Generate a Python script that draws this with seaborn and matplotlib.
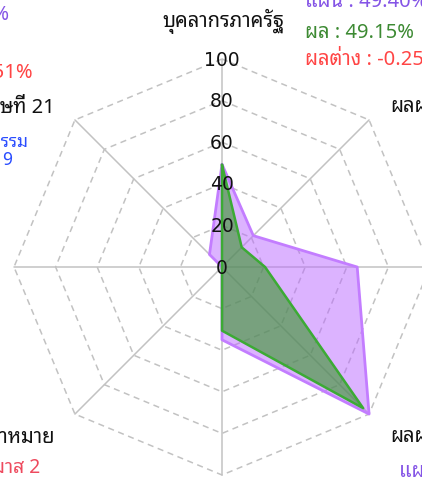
import matplotlib
matplotlib.use("Agg")
import numpy as np
import pandas as pd
import matplotlib.pyplot as plt
import seaborn as sns
from matplotlib import font_manager

# ---------------- data ----------------
categories = ["บุคลากรภาครัฐ", "ผลผลิตทางวิชาการ", "นวัตกรรม", "ผลผลิตอื่น",
              "เครือข่าย", "กลุ่มเป้าหมาย", "บริการวิชาการ", "ทักษะศตวรรษที่ 21"]
plan_values = [49.40, 21.3, 65.0, 100.0, 35.0, 0.0, 0.0, 8.51]
result_values = [49.15, 13.4, 20.7, 96.0, 30.6, 0.0, 0.0, 0.0]
tick_values = [0, 20, 40, 60, 80, 100]
tick_labels = ["0", "20", "40", "60", "80", "100"]

# ---------------- fonts ----------------
sns.set_theme(style="white")
avail = {f.name for f in font_manager.fontManager.ttflist}
thai_candidates = ["Noto Sans Thai Looped", "IBM Plex Sans Thai Looped", "Sarabun",
                   "Noto Sans Thai", "Anuphan", "Prompt"]
thai = [c for c in thai_candidates if c in avail][:1]
fam = thai + ["DejaVu Sans"]
plt.rcParams["font.family"] = fam

W, H = 422, 481
CX, CY, SC = 222.0, 268.0, 2.08  # centre pixel, pixels per value unit

fig = plt.figure(figsize=(W / 100, H / 100), dpi=100)
ax = fig.add_axes([0, 0, 1, 1])

n = len(categories)
ang = np.deg2rad(90 - 45 * np.arange(n))


def to_xy(vals):
    v = np.asarray(vals, float)
    return v * np.cos(ang), v * np.sin(ang)


def P(px, py):
    return (px - CX) / SC, (CY - py) / SC


grid_c = "#c2c2c2"
# spokes
for a in ang:
    ax.plot([0, 100 * np.cos(a)], [0, 100 * np.sin(a)], color=grid_c, lw=1.1, zorder=1)
# rings
for r in tick_values[1:]:
    xs, ys = to_xy([r] * n)
    ax.plot(np.r_[xs, xs[0]], np.r_[ys, ys[0]], color=grid_c, lw=1.1,
            linestyle=(0, (4, 3)), zorder=1)

# plan polygon
px_, py_ = to_xy(plan_values)
ax.fill(px_, py_, color=(187 / 255, 105 / 255, 1.0), alpha=0.5, lw=0, zorder=2)
dfp = pd.DataFrame({"x": np.r_[px_, px_[0]], "y": np.r_[py_, py_[0]]})
sns.lineplot(data=dfp, x="x", y="y", sort=False, estimator=None, ax=ax,
             color="#c37dff", lw=2.0, zorder=3)

# result polygon
rx_, ry_ = to_xy(result_values)
ax.fill(rx_, ry_, color=(53 / 255, 150 / 255, 40 / 255), alpha=0.6, lw=0, zorder=4)
dfr = pd.DataFrame({"x": np.r_[rx_, rx_[0]], "y": np.r_[ry_, ry_[0]]})
sns.lineplot(data=dfr, x="x", y="y", sort=False, estimator=None, ax=ax,
             color="#3caa35", lw=1.8, zorder=5)
ax.set_xlim(-CX / SC, (W - CX) / SC)
ax.set_ylim((CY - H) / SC, CY / SC)
ax.axis("off")

# radial tick labels on the top spoke
for v, lab in zip(tick_values, tick_labels):
    ax.text(0, v, lab, ha="center", va="center", fontsize=13.5, color="#111111",
            family=["DejaVu Sans"], zorder=6)

# ---------------- texts ----------------
PURPLE, GREEN, RED, BLUE = "#8555e6", "#3d8a33", "#ff4545", "#2a4dff"
FS = 14.5
FL = 14.5


def T(px, py, s, color="#111111", ha="left", **kw):
    x, y = P(px, py)
    ax.text(x, y, s, ha=ha, va="baseline", fontsize=kw.pop("fs", FS), color=color,
            zorder=7, **kw)


# top axis
T(223, 26.5, categories[0], ha="center", fs=FL)
T(305, 7, "แผน : 49.40%", PURPLE)
T(305, 37.5, "ผล : 49.15%", GREEN)
T(305, 65, "ผลต่าง : -0.25%", RED)

# top-right axis
T(390, 112, categories[1], fs=FL)
# bottom-right axis
T(390, 442, categories[3], fs=FL)
T(399, 477, "แผน : 100.00%", PURPLE)

# top-left axis
T(9, 20, "แผน : 8.51%", PURPLE, ha="right")
T(-6, 49, "ผล : 0.00%", GREEN, ha="right")
T(33, 78, "ผลต่าง : -8.51%", RED, ha="right")
T(55, 113, categories[7], ha="right", fs=FL)
T(28, 147, "กิจกรรม", BLUE, ha="right", fs=12.5, fontweight="bold")
T(12, 165, "9", BLUE, ha="right", fs=12.5, fontweight="bold")

# bottom-left axis
T(55, 443, categories[5], ha="right", fs=FL)
T(41, 473, "ไตรมาส 2", "#ee4a5e", ha="right", fs=14)

fig.savefig("out.png", dpi=100)
